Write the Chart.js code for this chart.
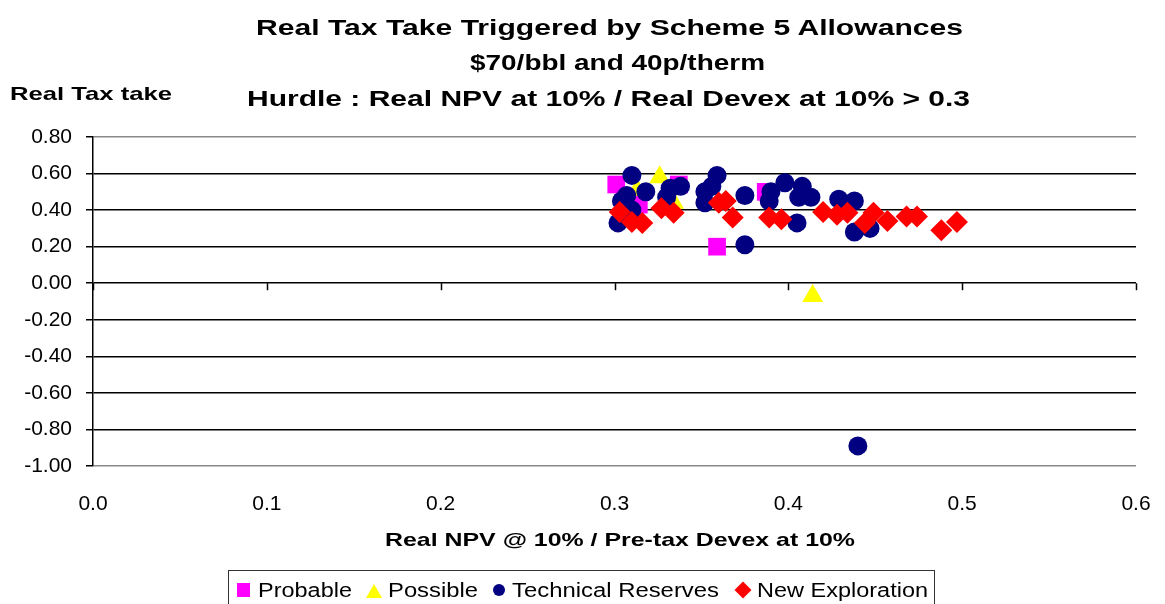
<!DOCTYPE html>
<html>
<head>
<meta charset="utf-8">
<title>Real Tax Take Triggered by Scheme 5 Allowances</title>
<script src="https://cdn.jsdelivr.net/npm/chart.js@4/dist/chart.umd.min.js"></script>
<style>
    html, body { margin: 0; padding: 0; background: #fff; }
    #wrap { position: relative; width: 1165px; height: 604px; overflow: hidden; font-family: "Liberation Sans", Arial, sans-serif; color: #000; }
    #chart { position: absolute; left: 0; top: 0; }
    .txt { position: absolute; white-space: nowrap; transform-origin: 0 50%; }
    .bold { font-weight: bold; }
    #legendBox { position: absolute; left: 228px; top: 570px; width: 707px; height: 40px; border: 1.5px solid #333; box-sizing: border-box; }
    .mk { position: absolute; }
</style>
</head>
<body>
<div id="wrap">
    <canvas id="chart" width="1165" height="604"></canvas>

    <div class="txt bold" data-x="256" data-y="27" data-w="707" style="font-size:22px">Real Tax Take Triggered by Scheme 5 Allowances</div>
    <div class="txt bold" data-x="470" data-y="62" data-w="295" style="font-size:22px">$70/bbl and 40p/therm</div>
    <div class="txt bold" data-x="247" data-y="98" data-w="723" style="font-size:22px">Hurdle : Real NPV at 10% / Real Devex at 10% &gt; 0.3</div>
    <div class="txt bold" data-x="10" data-y="94" data-w="162" style="font-size:19px">Real Tax take</div>
    <div class="txt bold" data-x="385" data-y="540" data-w="470" style="font-size:19px">Real NPV @ 10% / Pre-tax Devex at 10%</div>

    <div id="legendBox"></div>
    <div class="mk" style="left:237px;top:583px;width:13px;height:14px;background:#FF00FF"></div>
    <div class="mk" style="left:366px;top:584px;width:0;height:0;border-left:8px solid transparent;border-right:8px solid transparent;border-bottom:14px solid #FFFF00"></div>
    <div class="mk" style="left:493px;top:584px;width:12px;height:12px;border-radius:50%;background:#000080"></div>
    <div class="mk" style="left:737px;top:584px;width:12px;height:12px;background:#FF0000;transform:rotate(45deg)"></div>
    <div class="txt" data-x="258" data-y="590" data-w="94" style="font-size:20px">Probable</div>
    <div class="txt" data-x="388" data-y="590" data-w="90" style="font-size:20px">Possible</div>
    <div class="txt" data-x="512" data-y="590" data-w="207" style="font-size:20px">Technical Reserves</div>
    <div class="txt" data-x="757" data-y="590" data-w="171" style="font-size:20px">New Exploration</div>
</div>

<script>
// Values
const probableX = [0.301, 0.337, 0.314, 0.387, 0.359];
const probableY = [0.54, 0.54, 0.43, 0.50, 0.20];

const possibleX = [0.326, 0.313, 0.334, 0.414];
const possibleY = [0.58, 0.51, 0.44, -0.07];

const technicalX = [0.310, 0.307, 0.304, 0.302, 0.318, 0.310, 0.332, 0.338, 0.330, 0.359,
    0.356, 0.352, 0.352, 0.375, 0.375, 0.390, 0.389, 0.398, 0.408, 0.413,
    0.406, 0.405, 0.429, 0.438, 0.438, 0.447, 0.440];
const technicalY = [0.59, 0.48, 0.45, 0.33, 0.50, 0.40, 0.52, 0.53, 0.47, 0.59,
    0.53, 0.50, 0.44, 0.48, 0.21, 0.50, 0.45, 0.55, 0.53, 0.47,
    0.47, 0.33, 0.46, 0.45, 0.28, 0.30, -0.89];

const explorationX = [0.303, 0.310, 0.316, 0.327, 0.334, 0.360, 0.364, 0.368, 0.389, 0.396,
    0.420, 0.428, 0.434, 0.444, 0.449, 0.457, 0.468, 0.474, 0.488, 0.497];
const explorationY = [0.39, 0.335, 0.33, 0.41, 0.385, 0.44, 0.45, 0.36, 0.36, 0.35,
    0.39, 0.375, 0.385, 0.33, 0.385, 0.34, 0.365, 0.365, 0.29, 0.335];

const xTicks = [0, 0.1, 0.2, 0.3, 0.4, 0.5, 0.6];
const yTicks = [-1.0, -0.8, -0.6, -0.4, -0.2, 0.0, 0.2, 0.4, 0.6, 0.8];

function toPoints(xs, ys) {
    return xs.map((x, i) => ({ x: x, y: ys[i] }));
}

// Stretch html labels to the widths they have in the picture
document.querySelectorAll('.txt').forEach(el => {
    const fs = parseFloat(el.style.fontSize);
    const lh = Math.round(fs * 1.15);
    el.style.lineHeight = lh + 'px';
    el.style.left = el.dataset.x + 'px';
    el.style.top = (el.dataset.y - lh / 2) + 'px';
    const w = el.getBoundingClientRect().width;
    el.style.transform = 'scaleX(' + (el.dataset.w / w) + ')';
});

// Small tick marks on the zero line, like the Excel category axis
const zeroTicks = {
    id: 'zeroTicks',
    afterDraw(chart) {
        const ctx = chart.ctx;
        const xs = chart.scales.x;
        const y0 = chart.scales.y.getPixelForValue(0);
        ctx.save();
        ctx.strokeStyle = '#000';
        ctx.lineWidth = 1.5;
        xTicks.forEach(v => {
            const px = Math.round(xs.getPixelForValue(v)) + 0.5;
            ctx.beginPath();
            ctx.moveTo(px, y0);
            ctx.lineTo(px, y0 + 7);
            ctx.stroke();
        });
        ctx.restore();
    }
};

Chart.defaults.font.family = '"Liberation Sans", Arial, sans-serif';
Chart.defaults.color = '#000';

new Chart(document.getElementById('chart'), {
    type: 'scatter',
    data: {
        datasets: [
            {
                label: 'Probable',
                data: toPoints(probableX, probableY),
                pointStyle: 'rect',
                pointRadius: 12.5,
                backgroundColor: '#FF00FF',
                borderWidth: 0,
                order: 4
            },
            {
                label: 'Possible',
                data: toPoints(possibleX, possibleY),
                pointStyle: 'triangle',
                pointRadius: 12,
                backgroundColor: '#FFFF00',
                borderWidth: 0,
                order: 3
            },
            {
                label: 'Technical Reserves',
                data: toPoints(technicalX, technicalY),
                pointStyle: 'circle',
                pointRadius: 9.5,
                backgroundColor: '#000080',
                borderWidth: 0,
                order: 2
            },
            {
                label: 'New Exploration',
                data: toPoints(explorationX, explorationY),
                pointStyle: 'rectRot',
                pointRadius: 11,
                backgroundColor: '#FF0000',
                borderWidth: 0,
                order: 1
            }
        ]
    },
    options: {
        responsive: false,
        animation: false,
        devicePixelRatio: 1,
        events: [],
        layout: {
            padding: { top: 137, left: 0, right: 29, bottom: 0 }
        },
        plugins: {
            legend: { display: false },
            title: { display: false },
            tooltip: { enabled: false }
        },
        scales: {
            x: {
                type: 'linear',
                min: 0,
                max: 0.6,
                afterBuildTicks: scale => {
                    scale.ticks = xTicks.map(v => ({ value: v }));
                },
                afterFit: scale => {
                    scale.height = 138;
                    scale.paddingLeft = 0;
                    scale.paddingRight = 0;
                },
                grid: { display: false, drawTicks: false },
                border: { display: false },
                ticks: {
                    padding: 26,
                    font: { size: 21 },
                    maxRotation: 0,
                    callback: v => v.toFixed(1)
                }
            },
            y: {
                type: 'linear',
                min: -1,
                max: 0.8,
                afterBuildTicks: scale => {
                    scale.ticks = yTicks.map(v => ({ value: v }));
                },
                afterFit: scale => {
                    scale.width = 93;
                    scale.paddingTop = 0;
                    scale.paddingBottom = 0;
                },
                grid: {
                    color: ctx => (ctx.tick && (ctx.tick.value === 0.8 || ctx.tick.value === -1)) ? '#888' : '#000',
                    lineWidth: 1.5,
                    tickLength: 7,
                    tickColor: '#000'
                },
                border: { display: true, color: '#000', width: 1.5 },
                ticks: {
                    padding: 14,
                    font: { size: 21 },
                    callback: v => v.toFixed(2)
                }
            }
        }
    },
    plugins: [zeroTicks]
});
</script>
</body>
</html>
